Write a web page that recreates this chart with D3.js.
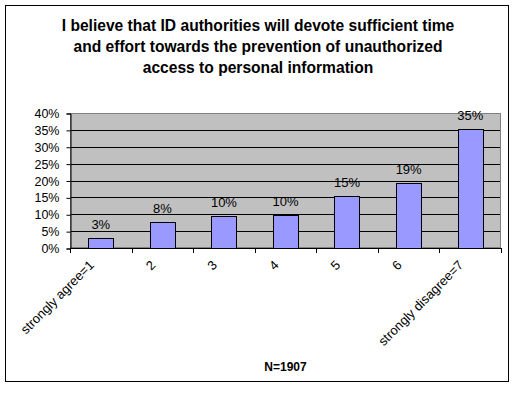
<!DOCTYPE html>
<html>
<head>
<meta charset="utf-8">
<script src="https://cdn.jsdelivr.net/npm/d3@7"></script>
<style>
  html, body { margin: 0; padding: 0; background: #fff; }
  svg { display: block; font-family: "Liberation Sans", Arial, sans-serif; }
</style>
</head>
<body>
<svg id="chart" width="516" height="394"></svg>
<script>
const titleLines = [
  "I believe that ID authorities will devote sufficient time",
  "and effort towards the prevention of unauthorized",
  "access to personal information"
];
const categories = ["strongly agree=1", "2", "3", "4", "5", "6", "strongly disagree=7"];
const values = [0.029, 0.076, 0.094, 0.097, 0.153, 0.192, 0.354];
const valueLabels = ["3%", "8%", "10%", "10%", "15%", "19%", "35%"];
const yTicks = [0, 0.05, 0.10, 0.15, 0.20, 0.25, 0.30, 0.35, 0.40];
const footnote = "N=1907";

const svg = d3.select("#chart");

// outer chart border
svg.append("rect")
  .attr("x", 5.5).attr("y", 5.5)
  .attr("width", 503).attr("height", 376)
  .attr("fill", "#fff").attr("stroke", "#000").attr("stroke-width", 1);

const plot = { left: 70, right: 501, top: 113, bottom: 248 };

const x = d3.scaleBand().domain(categories).range([plot.left, plot.right]).paddingInner(0).paddingOuter(0);
const y = d3.scaleLinear().domain([0, 0.4]).range([plot.bottom, plot.top]);

// plot area background
svg.append("rect")
  .attr("x", plot.left).attr("y", plot.top)
  .attr("width", plot.right - plot.left).attr("height", plot.bottom - plot.top)
  .attr("fill", "#C0C0C0");

// gridlines
svg.append("g").selectAll("line")
  .data(yTicks.filter(d => d > 0 && d < 0.4))
  .join("line")
  .attr("x1", plot.left).attr("x2", plot.right)
  .attr("y1", d => Math.round(y(d)) + 0.5).attr("y2", d => Math.round(y(d)) + 0.5)
  .attr("stroke", "#000").attr("stroke-width", 1);

// plot border (gray)
svg.append("rect")
  .attr("x", plot.left + 0.5).attr("y", plot.top + 0.5)
  .attr("width", plot.right - plot.left - 1).attr("height", plot.bottom - plot.top - 1)
  .attr("fill", "none").attr("stroke", "#808080").attr("stroke-width", 1);

// bars
const barW = x.bandwidth() * 0.41;
svg.append("g").selectAll("rect")
  .data(values)
  .join("rect")
  .attr("x", (d, i) => Math.round(x(categories[i]) + x.bandwidth() / 2 - barW / 2) + 0.5)
  .attr("y", d => Math.round(y(d)) + 0.5)
  .attr("width", Math.round(barW))
  .attr("height", d => Math.round(y(0)) - Math.round(y(d)))
  .attr("fill", "#9999FF").attr("stroke", "#000").attr("stroke-width", 1);

// data labels
svg.append("g").selectAll("text")
  .data(values)
  .join("text")
  .attr("x", (d, i) => x(categories[i]) + x.bandwidth() / 2)
  .attr("y", d => y(d) - 9)
  .attr("text-anchor", "middle")
  .attr("font-size", 13)
  .attr("fill", "#000")
  .text((d, i) => valueLabels[i]);

// y axis
const yAxis = d3.axisLeft(y).tickValues(yTicks).tickFormat(d3.format(".0%")).tickSize(4).tickPadding(7);
const gy = svg.append("g").attr("transform", `translate(${plot.left + 0.5},0.5)`).call(yAxis);
gy.selectAll("text").attr("font-size", 12.5).attr("font-family", "Liberation Sans, Arial, sans-serif").attr("fill", "#000");
gy.selectAll("line").attr("stroke", "#000");
gy.select(".domain").attr("stroke", "#000");

// x axis line and tick marks at category boundaries
const boundaries = categories.map(c => x(c)).concat([x(categories[categories.length - 1]) + x.bandwidth()]);
svg.append("line")
  .attr("x1", plot.left).attr("x2", plot.right)
  .attr("y1", Math.round(y(0)) + 0.5).attr("y2", Math.round(y(0)) + 0.5)
  .attr("stroke", "#000");
svg.append("g").selectAll("line")
  .data(boundaries)
  .join("line")
  .attr("x1", d => Math.round(d) + 0.5).attr("x2", d => Math.round(d) + 0.5)
  .attr("y1", Math.round(y(0))).attr("y2", Math.round(y(0)) + 5)
  .attr("stroke", "#000");

// category labels rotated
svg.append("g").selectAll("text")
  .data(categories)
  .join("text")
  .attr("transform", d => `translate(${x(d) + x.bandwidth() / 2 - 6},${y(0) + 18}) rotate(-45)`)
  .attr("text-anchor", "end")
  .attr("font-size", 13)
  .attr("fill", "#000")
  .text(d => d);

// title
svg.append("g").selectAll("text")
  .data(titleLines)
  .join("text")
  .attr("x", 258)
  .attr("y", (d, i) => 31 + i * 21)
  .attr("text-anchor", "middle")
  .attr("font-size", 15.6)
  .attr("font-weight", "bold")
  .attr("fill", "#000")
  .text(d => d);

// footnote
svg.append("text")
  .attr("x", (plot.left + plot.right) / 2)
  .attr("y", 371)
  .attr("text-anchor", "middle")
  .attr("font-size", 12)
  .attr("font-weight", "bold")
  .attr("fill", "#000")
  .text(footnote);
</script>
</body>
</html>
